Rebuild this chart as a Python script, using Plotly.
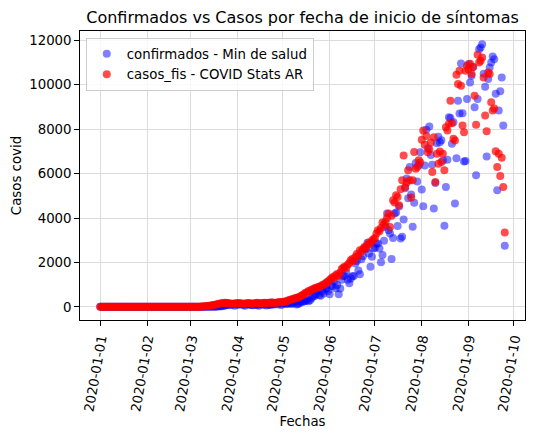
import pandas as pd
import plotly.graph_objects as go

# Casos diarios (01-01-2020 a 25-09-2020)
conf_ene = [0, 0, 0, 0, 0, 0, 0, 0, 0, 0, 0, 0, 0, 0, 0, 0, 0, 0, 0, 0,
            0, 0, 0, 0, 0, 0, 0, 0, 0, 0, 0]
conf_feb = [0, 0, 0, 0, 0, 0, 0, 0, 0, 0, 0, 0, 0, 0, 0, 0, 0, 0, 0, 0,
            0, 0, 0, 0, 0, 0, 0, 0, 0]
conf_mar = [0, 0, 1, 0, 6, 1, 4, 5, 0, 4, 2, 2, 10, 3, 11, 10, 9, 13, 18, 31,
            30, 32, 59, 58, 88, 86, 117, 87, 101, 55, 146]
conf_abr = [88, 132, 102, 120, 73, 52, 129, 115, 90, 81, 69, 92, 120, 87, 52,
            112, 144, 89, 149, 56, 96, 90, 89, 127, 111, 113, 173, 111, 158, 85]
conf_may = [145, 173, 132, 144, 151, 165, 125, 175, 240, 111, 130, 165, 246, 223,
            256, 262, 318, 252, 303, 391, 462, 494, 564, 704, 535, 504, 696, 601,
            795, 826, 716]
conf_jun = [564, 949, 929, 1141, 840, 983, 570, 826, 1226, 1391, 1386, 1531, 1226,
            1063, 1282, 1374, 1393, 1958, 2060, 1634, 1467, 2146, 2285, 2635, 2606,
            2886, 2401, 1808, 2262, 2632]
conf_jul = [2667, 2845, 2858, 2632, 2005, 2335, 2979, 3604, 4204, 3449, 3307, 2154,
            3099, 4204, 4250, 3645, 4523, 3082, 3154, 3937, 5344, 5782, 4890, 6295,
            5064, 3603, 4687, 6475, 5641, 6377, 6968]
conf_ago = [5281, 4532, 6371, 7972, 7147, 8122, 6840, 6403, 4429, 5580, 7372, 7663,
            7417, 7498, 6586, 3648, 5398, 6627, 8539, 8511, 7345, 8314, 4653, 6693,
            9288, 8713, 10962, 8718, 6551, 6564, 9365]
conf_sep = [10933, 10104, 10410, 10800, 8987, 5923, 9365, 11607, 11680, 11832,
            10500, 9916, 6775, 10261, 10783, 11007, 11275, 11150, 9600, 5250,
            8839, 9705, 10334, 8166, 2751]

fis_ene = [0, 0, 0, 0, 0, 0, 0, 0, 0, 0, 0, 0, 0, 0, 0, 0, 0, 0, 0, 0,
           0, 0, 0, 0, 0, 0, 0, 0, 0, 0, 0]
fis_feb = [0, 0, 0, 0, 0, 0, 0, 0, 0, 0, 0, 0, 0, 0, 0, 0, 0, 0, 0, 0,
           0, 0, 0, 0, 0, 0, 0, 0, 0]
fis_mar = [0, 1, 2, 3, 5, 8, 10, 14, 18, 25, 30, 38, 45, 55, 70, 85, 95, 110, 130,
           140, 160, 165, 170, 180, 175, 160, 150, 145, 140, 150, 155]
fis_abr = [160, 170, 150, 145, 155, 130, 165, 175, 160, 150, 140, 155, 170, 180, 160,
           150, 165, 175, 190, 170, 160, 180, 195, 200, 185, 175, 190, 210, 220, 200]
fis_may = [220, 245, 235, 270, 300, 315, 345, 350, 390, 410, 415, 460, 490, 530, 570,
           630, 650, 710, 715, 770, 790, 840, 845, 880, 910, 925, 970, 1010, 1040,
           1110, 1140]
fis_jun = [1210, 1280, 1350, 1300, 1420, 1480, 1400, 1550, 1700, 1760, 1820, 1750,
           1900, 1980, 2100, 2150, 2060, 2250, 2380, 2300, 2550, 2480, 2600, 2700,
           2650, 2800, 2900, 2850, 2980, 3050]
fis_jul = [3100, 3300, 3450, 3400, 3550, 3800, 3700, 3830, 4000, 4200, 3600, 4100,
           4800, 4700, 5030, 4950, 4580, 5300, 5700, 6820, 5400, 5600, 6150, 5700,
           4920, 5700, 6970, 6220, 6300, 6600, 6500]
fis_ago = [7525, 7942, 7300, 7700, 6968, 7100, 7400, 6072, 7642, 5622, 6900, 6445,
           7000, 6520, 6897, 6147, 8090, 7942, 8242, 9288, 8270, 7569, 7493, 10455,
           10037, 10634, 9961, 8166, 7867, 10634, 10858]
fis_sep = [10700, 10950, 10484, 10800, 9512, 8196, 11352, 11007, 11083, 11231,
           10334, 8615, 7912, 10558, 10484, 9213, 8839, 8929, 7013, 6295,
           6897, 5891, 6717, 5398, 3352]

# ticks mensuales, con las etiquetas tal como aparecen en el original
tick_fechas = ["2020-01-01", "2020-02-01", "2020-03-01", "2020-04-01", "2020-05-01",
               "2020-06-01", "2020-07-01", "2020-08-01", "2020-09-01", "2020-10-01"]
tick_textos = ["2020-01-01", "2020-01-02", "2020-01-03", "2020-01-04", "2020-01-05",
               "2020-01-06", "2020-01-07", "2020-01-08", "2020-01-09", "2020-01-10"]
y_ticks = [0, 2000, 4000, 6000, 8000, 10000, 12000]

confirmados = (conf_ene + conf_feb + conf_mar + conf_abr + conf_may + conf_jun
               + conf_jul + conf_ago + conf_sep)
casos_fis = (fis_ene + fis_feb + fis_mar + fis_abr + fis_may + fis_jun
             + fis_jul + fis_ago + fis_sep)
fechas = pd.date_range("2020-01-01", periods=len(confirmados), freq="D")

FONT = "DejaVu Sans"
FS = 13.33

fig = go.Figure()
fig.add_trace(go.Scatter(x=fechas, y=confirmados, mode="markers",
                         name="confirmados - Min de salud",
                         marker=dict(color="blue", size=8, opacity=0.5,
                                     line=dict(width=0))))
fig.add_trace(go.Scatter(x=fechas, y=casos_fis, mode="markers",
                         name="casos_fis - COVID Stats AR",
                         marker=dict(color="red", size=8, opacity=0.7,
                                     line=dict(width=0))))

# margenes al estilo matplotlib (5%)
span = fechas[-1] - fechas[0]
x_range = [fechas[0] - 0.05 * span, fechas[-1] + 0.05 * span]
y_max = max(max(confirmados), max(casos_fis))
y_range = [-0.05 * y_max, 1.05 * y_max]

axis_style = dict(showline=True, linecolor="black", linewidth=1.1, mirror=True,
                  ticks="outside", ticklen=4.7, tickwidth=1.1, tickcolor="black",
                  showgrid=True, gridcolor="#dcdcdc", gridwidth=1, zeroline=False,
                  tickfont=dict(family=FONT, size=FS, color="black"))

fig.update_xaxes(range=x_range, tickvals=pd.to_datetime(tick_fechas), ticktext=tick_textos,
                 tickangle=-80, automargin=False,
                 title=dict(text="Fechas", standoff=4,
                            font=dict(family=FONT, size=FS, color="black")),
                 **axis_style)
fig.update_yaxes(range=y_range, tickvals=y_ticks, tickformat="d", automargin=False,
                 title=dict(text="Casos covid", standoff=4,
                            font=dict(family=FONT, size=FS, color="black")),
                 **axis_style)

fig.update_layout(
    width=537, height=436,
    margin=dict(l=80, r=11.5, t=30.5, b=116),
    paper_bgcolor="white", plot_bgcolor="white",
    font=dict(family=FONT, size=FS, color="black"),
    title=dict(text="Confirmados vs Casos por fecha de inicio de síntomas",
               font=dict(family=FONT, size=16, color="black"),
               x=0.5, xref="paper", xanchor="center",
               y=1 - 17 / 436, yref="container", yanchor="middle"),
    legend=dict(x=0.013, y=0.977, xanchor="left", yanchor="top",
                bgcolor="rgba(255,255,255,0.8)", bordercolor="#cccccc", borderwidth=1,
                tracegroupgap=0, itemwidth=30,
                font=dict(family=FONT, size=FS, color="black")),
)

# sin el margen por defecto del <body>, para que la figura quede en (0, 0)
fig.write_html("out.html", config={"displayModeBar": False},
               post_script="document.body.style.margin = '0px';")
